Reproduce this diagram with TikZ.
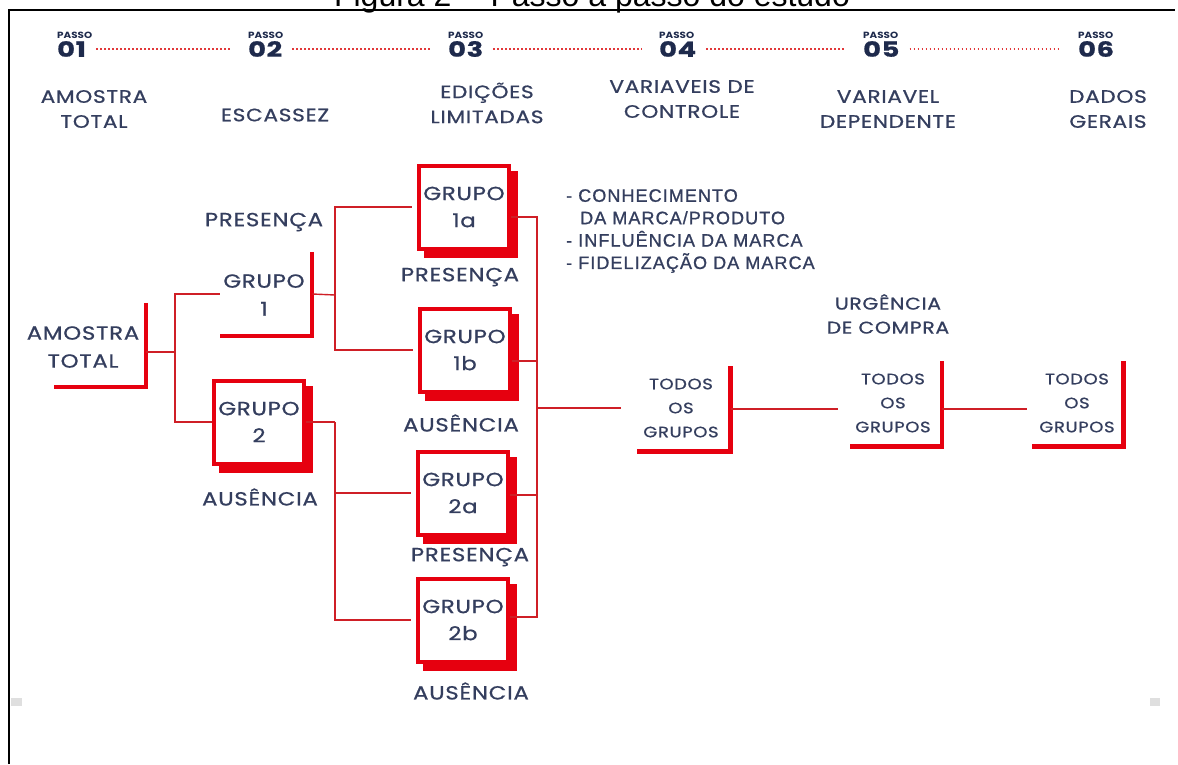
\documentclass[tikz,border=0pt]{standalone}
\usepackage{fontspec}
\setmainfont{Poppins}
\newfontfamily\labf{Poppins}[LetterSpace=4, FakeStretch=1.2, FakeBold=0.8]
\newfontfamily\numf{Poppins}[LetterSpace=3, FakeStretch=1.3, FakeBold=0.8]
\newfontfamily\passof{Poppins}[FakeStretch=1.15]
\newfontfamily\arialf{Liberation Sans}[LetterSpace=6, FakeBold=1]
\newfontfamily\titlef{Liberation Sans}
\usetikzlibrary{shadows,calc}
\definecolor{navy}{HTML}{343E5E}
\definecolor{navyd}{HTML}{1E2A4C}
\definecolor{boxred}{HTML}{E6000F}
\definecolor{lnred}{HTML}{CF1F26}
\definecolor{dotred}{HTML}{E2383A}
\begin{document}
\begin{tikzpicture}[x=1pt,y=-1pt,
  conn/.style={draw=lnred, line width=1.4pt},
  lbar/.style={draw=boxred, line width=4.5pt},
  dots/.style={draw=dotred, line width=1.8pt, dash pattern=on 1.8pt off 2.2pt},
  grpbox/.style={draw=boxred, line width=4pt, fill=white, minimum width=90pt,
    minimum height=83pt, inner sep=0pt, align=center, text=navy,
    font=\labf\fontsize{19}{27}\selectfont,
    general shadow={fill=boxred, draw=boxred, line width=4pt, shadow xshift=7pt, shadow yshift=-7pt}},
  lframe/.style={minimum width=92pt, minimum height=84pt, inner sep=0pt},
  maintxt/.style={align=center, text=navy, inner sep=0pt, font=\labf\fontsize{19}{28}\selectfont},
  todotxt/.style={align=center, text=navy, inner sep=0pt, font=\labf\fontsize{15}{24}\selectfont},
  lbl/.style={text=navy, inner sep=0pt, font=\labf\fontsize{19}{20}\selectfont},
  hdlbl/.style={align=center, text=navy, inner sep=0pt, font=\labf\fontsize{18}{25}\selectfont},
  passo/.style={anchor=west, text=navyd, inner sep=0pt, font=\passof\bfseries\fontsize{9}{10}\selectfont},
  num/.style={anchor=west, text=navyd, inner sep=0pt, font=\numf\bfseries\fontsize{21}{22}\selectfont},
]
\useasboundingbox (0,0) rectangle (1178,764);
\fill[white] (0,0) rectangle (1178,764);

% title (cut off at the top)
\node[anchor=base, inner sep=0pt, font=\titlef\fontsize{32}{36}\selectfont] (title) at (592,6) {Figura 2 -- Passo a passo do estudo};
% frame
\draw[black, line width=2.6pt] (9,764) -- (9,10) -- (1175,10);
\fill[gray!25] (11,698) rectangle (22,706);
\fill[gray!25] (1150,698) rectangle (1160,706);

% header
\foreach \i/\x in {01/57,02/248,03/448,04/659,05/863,06/1078}{
  \node[passo] (p\i) at (\x,35) {PASSO};
  \node[num] (n\i) at (\x,49) {\i};
}
\foreach \a/\b in {01/02,02/03,03/04,04/05,05/06}{
  \draw[dots, shorten <=10pt, shorten >=17pt] (n\a.east) -- (n\b.west);
}
\node[hdlbl] (h1) at (94,109) {AMOSTRA\\TOTAL};
\node[hdlbl] (h2) at (275,115) {ESCASSEZ};
\node[hdlbl] (h3) at (487,103) {EDIÇÕES\\LIMITADAS};
\node[hdlbl] (h4) at (682,99) {VARIAVEIS DE\\CONTROLE};
\node[hdlbl] (h5) at (888,109) {VARIAVEL\\DEPENDENTE};
\node[hdlbl] (h6) at (1108,109) {DADOS\\GERAIS};

% AMOSTRA TOTAL
\node[lframe] (amt) at (100,345) {};
\draw[lbar] (amt.north east) -- (amt.south east) -- (amt.south west);
\node[maintxt] (amtT) at (83,347) {AMOSTRA\\TOTAL};

% GRUPO 1
\node[lframe] (g1) at (266,294) {};
\draw[lbar] (g1.north east) -- (g1.south east) -- (g1.south west);
\node[maintxt] (g1T) at (264,295) {GRUPO\\1};
\node[lbl] (presA) at (264,222) {PRESENÇA};

% GRUPO 2
\node[grpbox] (g2) at (259,422) {GRUPO\\2};
\node[lbl] (ausA) at (260,497) {AUSÊNCIA};

% second level
\node[grpbox] (n1a) at (464,207) {GRUPO\\1a};
\node[lbl] (presB) at (460,277) {PRESENÇA};
\node[grpbox] (n1b) at (465,350) {GRUPO\\1b};
\node[lbl] (ausB) at (461,423) {AUSÊNCIA};
\node[grpbox] (n2a) at (463,493) {GRUPO\\2a};
\node[lbl] (presC) at (470,557) {PRESENÇA};
\node[grpbox] (n2b) at (463,620) {GRUPO\\2b};
\node[lbl] (ausC) at (471,691) {AUSÊNCIA};

% variables block
\node[anchor=west, align=left, text=navy, inner sep=0pt,
  font=\arialf\fontsize{18}{22.4}\selectfont] (vars) at (566,231)
  {- CONHECIMENTO\\\hspace*{14pt}DA MARCA/PRODUTO\\- INFLUÊNCIA DA MARCA\\- FIDELIZAÇÃO DA MARCA};
\node[maintxt, font=\labf\fontsize{17}{24}\selectfont] (urg) at (888,314) {URGÊNCIA\\DE COMPRA};

% TODOS OS GRUPOS
\node[lframe, minimum width=93pt, minimum height=85pt] (t1) at (684,409) {};
\draw[lbar] (t1.north east) -- (t1.south east) -- (t1.south west);
\node[todotxt] (t1T) at (681,408) {TODOS\\OS\\GRUPOS};
\node[lframe, minimum width=92pt, minimum height=85pt] (t2) at (896,404) {};
\draw[lbar] (t2.north east) -- (t2.south east) -- (t2.south west);
\node[todotxt] (t2T) at (893,403) {TODOS\\OS\\GRUPOS};
\node[lframe, minimum width=91pt, minimum height=85pt] (t3) at (1078,404) {};
\draw[lbar] (t3.north east) -- (t3.south east) -- (t3.south west);
\node[todotxt] (t3T) at (1077,403) {TODOS\\OS\\GRUPOS};

% connectors
\coordinate (J1) at (175,352);
\coordinate (J2) at (335,295);
\coordinate (J3) at (335,422);
\coordinate (C) at (537,408);
\draw[conn] ([yshift=-7pt]amt.east) -- (J1);
\draw[conn] (g1.west) -| (J1) |- (g2.west);
\draw[conn] (g1.east) -- (J2);
\draw[conn, shorten >=5pt] (J2) |- (n1a.west);
\draw[conn, shorten >=5pt] (J2) |- (n1b.west);
\draw[conn] (g2.east) -- (J3);
\draw[conn, shorten >=5pt] (J3) |- (n2a.west);
\draw[conn, shorten >=5pt] (J3) |- (n2b.west);
\draw[conn] ([yshift=-10pt]n1a.east) -| (C);
\draw[conn] ([yshift=-11pt]n1b.east) -| (C);
\draw[conn] ([yshift=-2pt]n2a.east) -| (C);
\draw[conn] ([yshift=3pt]n2b.east) -| (C);
\draw[conn, shorten >=16pt] (C) -- (C -| t1.west);
\draw[conn, shorten >=12pt] (t1.east) -- (t1.east -| t2.west);
\draw[conn, shorten >=5pt] (t1.east -| t2.east) -- (t1.east -| t3.west);
\end{tikzpicture}
\end{document}
